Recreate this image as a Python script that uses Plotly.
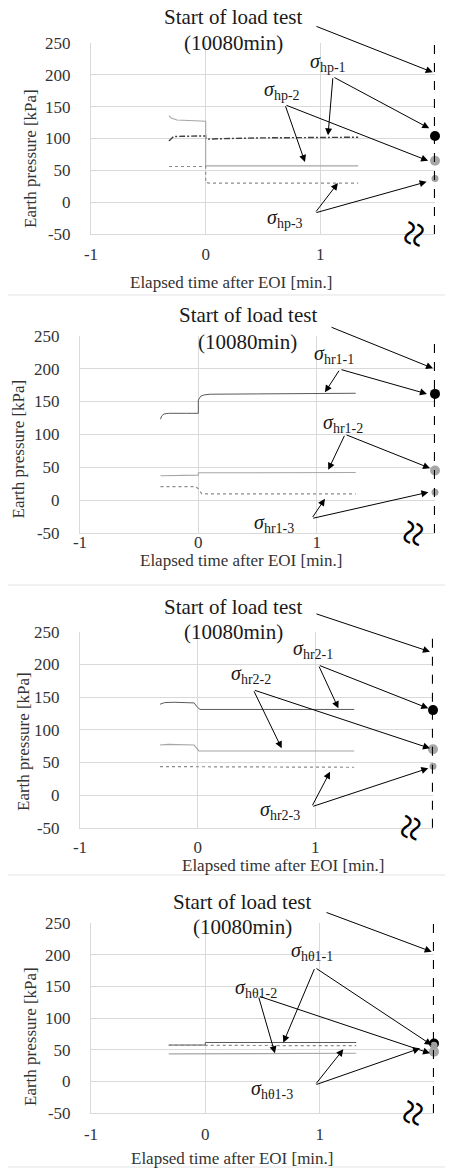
import plotly.graph_objects as go

# ---------------- data ----------------
X_TICKS = [-1, 0, 1]
X_TICKTEXT = ["-1", "0", "1"]
Y_TICKS = [-50, 0, 50, 100, 150, 200, 250]
Y_TICKTEXT = ["-50", "0", "50", "100", "150", "200", "250"]
T_LOAD = 2  # position of "start of load test" (10080 min) on the broken axis

# panel 1 : sigma_hp
hp1_t = [-0.32, -0.30, -0.28, -0.20, -0.10, 0.0, 0.0, 0.02, 0.2, 0.5, 0.8, 1.1, 1.33]
hp1_p = [96, 100, 103, 103.5, 104, 104, 99, 99, 100, 101, 101.5, 102, 102]
hp2_t = [-0.32, -0.30, -0.25, -0.15, 0.0, 0.0, 0.5, 1.0, 1.33]
hp2_p = [136, 132, 129, 128, 127, 57, 57, 57, 57]
hp3_t = [-0.32, 0.0, 0.0, 0.03, 0.5, 1.0, 1.33]
hp3_p = [56, 56, 31, 30, 30, 30, 30]
hp_load = [104, 65, 37]

# panel 2 : sigma_hr1
hr1_1_t = [-0.32, -0.31, -0.29, -0.25, -0.10, 0.0, 0.0, 0.02, 0.05, 0.1, 0.5, 1.0, 1.33]
hr1_1_p = [123, 128, 131, 132, 132, 132, 152, 158, 160, 161, 161.5, 162, 162.5]
hr1_2_t = [-0.32, 0.0, 0.0, 0.5, 1.33]
hr1_2_p = [37, 38, 41.5, 42, 42]
hr1_3_t = [-0.32, -0.02, 0.0, 0.03, 0.5, 1.33]
hr1_3_p = [20.5, 20.5, 17, 9.5, 9.5, 9.5]
hr1_load = [161.5, 45, 12]

# panel 3 : sigma_hr2
hr2_1_t = [-0.32, -0.28, -0.20, -0.03, 0.0, 0.02, 0.3, 1.0, 1.33]
hr2_1_p = [139, 141.5, 142, 141, 134, 131, 131, 131, 131]
hr2_2_t = [-0.32, -0.25, -0.03, 0.0, 0.01, 0.5, 1.33]
hr2_2_p = [76.5, 77.5, 76.5, 70, 67.5, 67.5, 67.5]
hr2_3_t = [-0.32, 0.0, 0.0, 1.33]
hr2_3_p = [43.5, 43.5, 42.5, 42.5]
hr2_load = [130, 70, 44]

# panel 4 : sigma_h(theta)1
ht1_1_t = [-0.32, 0.0, 0.0, 1.32]
ht1_1_p = [57.5, 57.5, 61.5, 61.5]
ht1_2_t = [-0.32, 0.0, 0.0, 1.32]
ht1_2_p = [43.5, 43.5, 44.5, 44.5]
ht1_3_t = [-0.32, 0.0, 0.0, 1.32]
ht1_3_p = [57, 57, 56.5, 56.5]
ht1_load = [60, 47, 57]

# labels: (text, x, y, [(head_x, head_y, tail_x, tail_y), ...])
hp_labels = [
    ("hp-1", 1.07, 220, [(1.067, 105, 1.11, 197), (1.95, 116, 1.11, 197)]),
    ("hp-2", 0.665, 176, [(0.866, 63, 0.692, 153), (1.94, 65, 0.692, 153)]),
    ("hp-3", 0.69, -25, [(1.153, 30, 0.953, -17), (1.927, 32, 0.953, -17)]),
]
hr1_labels = [
    ("hr1-1", 1.15, 221, [(1.07, 164, 1.197, 199), (1.932, 161.5, 1.197, 199)]),
    ("hr1-2", 1.22, 117, [(1.098, 46, 1.24, 100), (1.958, 48.5, 1.24, 100)]),
    ("hr1-3", 0.64, -35, [(1.07, 2, 0.958, -28), (1.944, 12, 0.958, -28)]),
]
hr2_labels = [
    ("hr2-1", 0.98, 222, [(1.196, 132.7, 1.026, 199), (1.96, 132.7, 1.026, 199)]),
    ("hr2-2", 0.455, 184, [(0.714, 71.5, 0.473, 161), (1.974, 71.5, 0.473, 161)]),
    ("hr2-3", 0.70, -23, [(1.125, 35.7, 0.969, -18), (1.96, 41, 0.969, -18)]),
]
ht1_labels = [
    ("hθ1-1", 0.935, 205, [(0.682, 61.2, 0.959, 180), (1.98, 57.5, 0.959, 180)]),
    ("hθ1-2", 0.445, 147, [(0.609, 44.4, 0.464, 135), (1.965, 44.4, 0.464, 135)]),
    ("hθ1-3", 0.585, -13.6, [(1.207, 50.7, 0.959, -5.7), (1.878, 52.3, 0.959, -5.7)]),
]
# "Start of load test" arrow (head_x, head_y, tail_x, tail_y)
start_arrows = [
    (1.98, 204, 0.953, 277),
    (1.983, 200.4, 1.113, 263.7),
    (1.974, 219.4, 0.997, 278),
    (1.98, 205, 1.047, 268),
]

panels_series = [
    [(hp1_t, hp1_p), (hp2_t, hp2_p), (hp3_t, hp3_p)],
    [(hr1_1_t, hr1_1_p), (hr1_2_t, hr1_2_p), (hr1_3_t, hr1_3_p)],
    [(hr2_1_t, hr2_1_p), (hr2_2_t, hr2_2_p), (hr2_3_t, hr2_3_p)],
    [(ht1_1_t, ht1_1_p), (ht1_2_t, ht1_2_p), (ht1_3_t, ht1_3_p)],
]
panels_load = [hp_load, hr1_load, hr2_load, ht1_load]
panels_labels = [hp_labels, hr1_labels, hr2_labels, ht1_labels]

# ---------------- layout (pixel boxes, in window pixels) ----------------
WIN_W, WIN_H = 453, 1171
OFF = 8  # default page body margin
W, H = WIN_W - OFF, WIN_H - OFF
FONT = "Liberation Serif"
boxes = [  # plot area: left, right, top, bottom (px)
    (91, 435, 43, 234),
    (80, 435, 335.7, 533),
    (80, 433, 631.7, 827.7),
    (91, 434, 923.3, 1113),
]
xtick_standoff = [5, -6, 4, 6]
title_pos = [(233, 17.5, 42.5), (247.5, 315, 341.7), (233, 606.7, 631.7), (242, 901.7, 926.7)]
xtitle_pos = [(231.5, 282), (241.5, 561), (283.5, 865), (232.5, 1158)]
ytitle_pos = [(30, 159), (17.5, 449), (23, 742), (30, 1037)]
frames = [(7, 30, 295), (5, 313, 585), (6, 613, 875), (7, 910, 1167)]

line_styles = [
    dict(color="#5a5a5a", width=1.0),
    dict(color="#a6a6a6", width=1.1),
    dict(color="#8c8c8c", width=1.2, dash="dot"),
]
marker_styles = [
    dict(color="#000000", size=10),
    dict(color="#a6a6a6", size=10),
    dict(color="#a0a0a0", size=7),
]


def px2x(px):
    return (px - OFF) / W


def px2y(py):
    return 1 - (py - OFF) / H


fig = go.Figure()
annotations = []
shapes = []

for i in range(4):
    n = "" if i == 0 else str(i + 1)
    xa, ya = "x" + n, "y" + n
    for k, (t, p) in enumerate(panels_series[i]):
        ls = dict(line_styles[k])
        if i == 0 and k == 0:
            ls["dash"] = "6px,2px,2px,2px"
            ls["width"] = 1.4
            ls["color"] = "#404040"
        fig.add_trace(go.Scatter(x=t, y=p, mode="lines", line=ls,
                                 xaxis=xa, yaxis=ya, hoverinfo="skip"))
    for k, v in enumerate(panels_load[i]):
        fig.add_trace(go.Scatter(x=[T_LOAD], y=[v], mode="markers",
                                 marker=marker_styles[k], cliponaxis=False,
                                 xaxis=xa, yaxis=ya, hoverinfo="skip"))

    l, r, t, b = boxes[i]
    fig.layout["xaxis" + n] = dict(
        domain=[px2x(l), px2x(r)], anchor=ya, range=[-1, 2],
        tickvals=X_TICKS, ticktext=X_TICKTEXT, ticks="", showgrid=True,
        gridcolor="#d9d9d9", gridwidth=1, zeroline=False, showline=True,
        linecolor="#d9d9d9", automargin=False, ticklabelstandoff=xtick_standoff[i],
        tickfont=dict(family=FONT, size=17, color="#333333"), fixedrange=True)
    fig.layout["yaxis" + n] = dict(
        domain=[px2y(b), px2y(t)], anchor=xa, range=[-50, 250],
        tickvals=Y_TICKS, ticktext=Y_TICKTEXT, ticks="", showgrid=True,
        gridcolor="#d9d9d9", gridwidth=1, zeroline=False, showline=True,
        linecolor="#d9d9d9", automargin=False, ticklabelstandoff=16,
        tickfont=dict(family=FONT, size=17, color="#333333"), fixedrange=True)

    # dashed line at start of load test
    shapes.append(dict(type="line", xref=xa, yref=ya + " domain", x0=T_LOAD, x1=T_LOAD,
                       y0=0, y1=1, line=dict(color="black", width=2.2, dash="dash")))
    # chart frame
    fx, fy0, fy1 = frames[i]
    shapes.append(dict(type="line", xref="paper", yref="paper", x0=px2x(fx), x1=px2x(fx),
                       y0=px2y(fy0), y1=px2y(fy1), line=dict(color="#e3e3e3", width=1)))
    shapes.append(dict(type="line", xref="paper", yref="paper", x0=px2x(fx), x1=1,
                       y0=px2y(fy1), y1=px2y(fy1), line=dict(color="#e3e3e3", width=1)))

    # titles
    cx, y1, y2 = title_pos[i]
    for txt, yy in (("Start of load test", y1), ("(10080min)", y2)):
        annotations.append(dict(text=txt, x=px2x(cx), y=px2y(yy), xref="paper",
                                yref="paper", xanchor="center", yanchor="middle",
                                showarrow=False,
                                font=dict(family=FONT, size=21, color="#1a1a1a")))
    hx, hy, tx, ty = start_arrows[i]
    annotations.append(dict(text="", x=hx, y=hy, ax=tx, ay=ty, xref=xa, yref=ya,
                            axref=xa, ayref=ya, showarrow=True, arrowhead=2,
                            arrowsize=1.4, arrowwidth=1, arrowcolor="black", standoff=0))
    xt, yt = xtitle_pos[i]
    annotations.append(dict(text="Elapsed time after EOI [min.]", x=px2x(xt), y=px2y(yt),
                            xref="paper", yref="paper", xanchor="center", yanchor="middle",
                            showarrow=False,
                            font=dict(family=FONT, size=17, color="#333333")))
    xt, yt = ytitle_pos[i]
    annotations.append(dict(text="Earth pressure [kPa]", x=px2x(xt), y=px2y(yt),
                            xref="paper", yref="paper", xanchor="center", yanchor="middle",
                            showarrow=False, textangle=-90,
                            font=dict(family=FONT, size=17, color="#333333")))
    # axis break symbol
    annotations.append(dict(text="≈", x=1.81, y=-50, xref=xa, yref=ya, showarrow=False,
                            xanchor="center", yanchor="middle", textangle=-75,
                            font=dict(family=FONT, size=46, color="black")))

    # sigma labels & arrows
    for name, lx, ly, arrows in panels_labels[i]:
        annotations.append(dict(text="<i>σ</i><sub>" + name + "</sub>", x=lx, y=ly,
                                xref=xa, yref=ya, xanchor="center", yanchor="middle",
                                showarrow=False,
                                font=dict(family=FONT, size=20, color="#1a1a1a")))
        for hx, hy, tx, ty in arrows:
            annotations.append(dict(text="", x=hx, y=hy, ax=tx, ay=ty, xref=xa, yref=ya,
                                    axref=xa, ayref=ya, showarrow=True, arrowhead=2,
                                    arrowsize=1.4, arrowwidth=1, arrowcolor="black",
                                    standoff=0))

fig.update_layout(width=W, height=H,
                  margin=dict(l=0, r=0, t=0, b=0, pad=0, autoexpand=False),
                  paper_bgcolor="white", plot_bgcolor="white", showlegend=False,
                  annotations=annotations, shapes=shapes)
fig.write_html("out.html")
